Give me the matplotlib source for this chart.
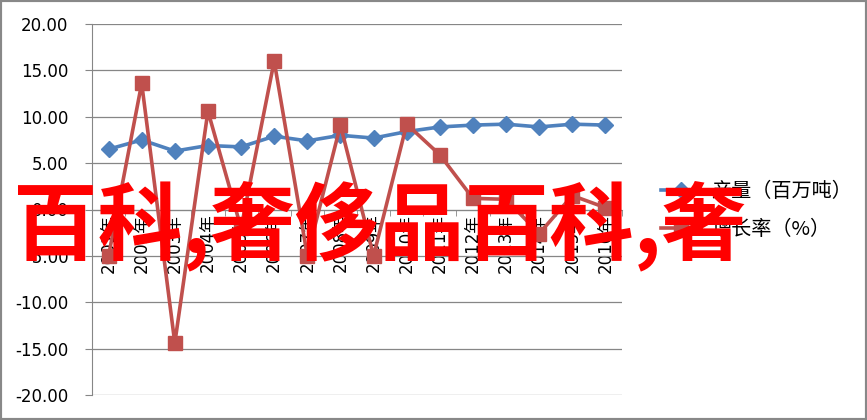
import numpy as np
import matplotlib
matplotlib.use('Agg')
import matplotlib.pyplot as plt
from matplotlib.ticker import FormatStrFormatter, FixedLocator
from matplotlib.lines import Line2D
from matplotlib.patches import Rectangle

plt.rcParams['font.family'] = ['DejaVu Sans', 'Noto Sans CJK SC']
plt.rcParams['axes.unicode_minus'] = False

years = ['2001年', '2002年', '2003年', '2004年', '2005年', '2006年', '2007年', '2008年',
         '2009年', '2010年', '2011年', '2012年', '2013年', '2014年', '2015年', '2016年']
output = [6.5, 7.5, 6.3, 6.9, 6.75, 7.9, 7.4, 8.0, 7.7, 8.4, 8.9, 9.1, 9.2, 8.9, 9.2, 9.1]
growth = [-5.0, 13.6, -14.4, 10.6, -2.0, 16.0, -5.0, 9.1, -5.0, 9.2, 5.9, 1.2, 1.1, -2.6, 1.5, 0.2]
series_names = ['产量（百万吨）', '增长率（%）']
watermark = '百科,奢侈品百科,奢'

blue = '#4F81BD'
red = '#C0504D'
grey = '#868686'

fig = plt.figure(figsize=(8.67, 4.20), dpi=100)
ax = fig.add_axes([92 / 867, 25 / 420, 530 / 867, 371 / 420])

x = np.arange(len(years))
ax.plot(x, output, color=blue, lw=2.6, marker='D', ms=8.5, zorder=3)
ax.plot(x, growth, color=red, lw=2.6, marker='s', ms=10.5, zorder=4)

ax.set_xlim(-0.5, len(years) - 0.5)
ax.set_ylim(-20, 20)
ax.set_yticks(np.arange(-20, 21, 5))
ax.yaxis.set_major_formatter(FormatStrFormatter('%.2f'))
ax.grid(axis='y', color=grey, lw=0.9, zorder=0)
ax.set_axisbelow(True)

for s in ['top', 'right']:
    ax.spines[s].set_visible(False)
ax.spines['left'].set_color(grey)
ax.spines['bottom'].set_color(grey)
ax.spines['bottom'].set_position(('data', 0))

ax.tick_params(axis='y', length=5, color=grey, pad=12, labelsize=12)
ax.set_xticks(x)
ax.set_xticklabels(years, rotation=90, fontsize=12)
ax.xaxis.set_minor_locator(FixedLocator(np.arange(-0.5, len(years), 1)))
ax.tick_params(axis='x', which='major', length=0, pad=3)
ax.tick_params(axis='x', which='minor', length=4, color=grey)

handles = [Line2D([], [], color=blue, lw=2.6, marker='D', ms=8.5),
           Line2D([], [], color=red, lw=2.6, marker='s', ms=10.5)]
fig.legend(handles, series_names, loc='center left', bbox_to_anchor=(651 / 867, 0.498),
           frameon=False, borderpad=0, handlelength=2.0, handletextpad=0.5,
           labelspacing=0.85, prop={'family': 'Noto Sans CJK SC', 'size': 14.5})

# big red overlay text
fig.text(379 / 867, 0.463, watermark, color='#FF0000', fontsize=61, fontweight='bold',
         family='Noto Sans CJK SC', ha='center', va='center', zorder=10)

fig.add_artist(Rectangle((0, 0), 1, 1, transform=fig.transFigure, fill=False,
                         edgecolor='#888888', lw=3))

fig.savefig('out.png', dpi=100)
